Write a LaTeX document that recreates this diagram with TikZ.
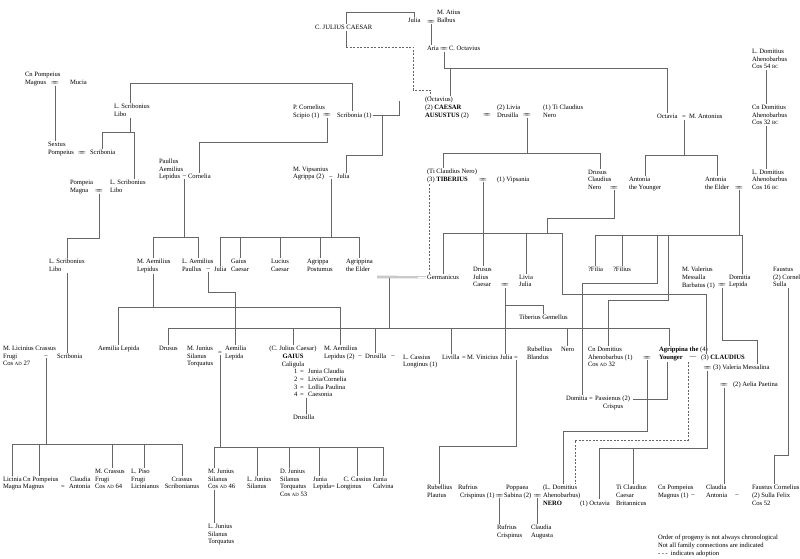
\documentclass[tikz,border=0pt]{standalone}
\usepackage{fontspec}
\setmainfont{Liberation Serif}
\newcommand\fsz{\fontsize{6.6}{7.6}\selectfont}
\newcommand\smc[1]{{\fontsize{4.8}{5}\selectfont #1}}
\newcommand\eql{$=\mkern-9mu=$}
\begin{document}
\begin{tikzpicture}[x=1pt,y=-1pt,
 pn/.style={anchor=north west,inner sep=0pt,outer sep=1.2pt,align=left,font=\fsz,xshift=-1.2pt,yshift=3.9pt},
 pc/.style={anchor=north,inner sep=0pt,outer sep=1.2pt,align=center,font=\fsz,yshift=3.9pt},
 eqn/.style={inner sep=0pt,outer sep=0.8pt,font=\fsz},
 ln/.style={draw=black!60,line width=0.45pt},
 adopt/.style={draw=black!60,line width=0.45pt,dash pattern=on 2pt off 1.5pt},
 dbl/.style={draw=black!60,line width=0.4pt,double,double distance=1.3pt}]
\fill[white] (0,0) rectangle (800,559);
\useasboundingbox (0,0) rectangle (800,559);
% ---------------- nodes: top
\node[pn] (jc) at (315,28) {C. JULIUS CAESAR};
\node[pn] (juliaA) at (408,21) {Julia};
\node[eqn] (eqJB) at (431,22) {\eql};
\node[pn] (atius) at (437,13) {M. Atius\\Balbus};
\node[pn] (aria) at (427,49) {Aria};
\node[eqn] (eqAO) at (444,49.5) {\eql};
\node[pn] (coct) at (449,49) {C. Octavius};
\node[pn] (aug) at (425,100) {(Octavius)\\(2) \textbf{CAESAR}\\\textbf{AUSUSTUS} (2)};
\node[eqn] (eqAL) at (487,115.5) {\eql};
\node[pn] (livia) at (497,107.6) {(2) Livia\\Drusilla};
\node[eqn] (eqLN) at (527,115.5) {\eql};
\node[pn] (tcn) at (543,107.6) {(1) Ti Claudius\\Nero};
\node[pn] (corn) at (293,107.6) {P. Cornelius\\Scipio (1)};
\node[eqn] (eqCS) at (327,115.5) {\eql};
\node[pn] (scrib1) at (337,115.2) {Scribonia (1)};
\node[pn] (libo1) at (114,107) {L. Scribonius\\Libo};
\node[pn] (pompM) at (25,75) {Cn Pompeius\\Magnus};
\node[eqn] (eqPM) at (55,83.5) {\eql};
\node[pn] (mucia) at (70,82.6) {Mucia};
\node[pn] (sextus) at (48,145) {Sextus\\Pompeius};
\node[eqn] (eqSS) at (82,153.5) {\eql};
\node[pn] (scrib2) at (90,152.6) {Scribonia};
\node[pn] (pompeia) at (70,183) {Pompeia\\Magna};
\node[eqn] (eqPL) at (99,191.5) {\eql};
\node[pn] (libo2) at (110,183) {L. Scribonius\\Libo};
\node[pn] (libo3) at (49,262) {L. Scribonius\\Libo};
\node[pn] (crassus) at (3,349) {M. Licinius Crassus\\Frugi\\Cos \smc{AD} 27};
\node[eqn] (dCS) at (46,356.6) {--};
\node[pn] (scrib3) at (57,356.6) {Scribonia};
% bottom left
\node[pn] (licinia) at (3,479.4) {Licinia\\Magna};
\node[pn] (pompM2) at (23,479.4) {Cn Pompeius\\Magnus};
\node[eqn] (eqPC) at (63,487) {=};
\node[pn] (claudA) at (69,479.4) {\hspace*{1pt}Claudia\\Antonia};
\node[pn] (mcrassus) at (95,471.8) {M. Crassus\\Frugi\\Cos \smc{AD} 64};
\node[pn] (piso) at (131,471.8) {L. Piso\\Frugi\\Licinianus};
\node[pc] (crassusS) at (182,479.4) {Crassus\\Scribonianus};
% middle left
\node[pn] (paulAL) at (159,161.6) {Paullus\\Aemilius\\Lepidus};
\node[eqn] (dPC) at (184.5,177) {--};
\node[pn] (cornelia) at (188,176.8) {Cornelia};
\node[pn] (agrippa) at (293,169.4) {M. Vipsanius\\Agrippa (2)};
\node[eqn] (dAJ) at (331,177.2) {--};
\node[pn] (juliaB) at (337,177) {Julia};
\node[pn] (maemil) at (137,262) {M. Aemilius\\Lepidus};
\node[pn] (laemil) at (182,262) {L. Aemilius\\Paullus};
\node[eqn] (dLJ) at (208.5,270) {--};
\node[pn] (juliaC) at (214,269.6) {Julia};
\node[pn] (gaius1) at (231,262) {Gaius\\Caesar};
\node[pn] (lucius) at (271,262) {Lucius\\Caesar};
\node[pn] (agPost) at (307,262) {Agrippa\\Postumus};
\node[pn] (agEld) at (346,262) {Agrippina\\the Elder};
% middle
\node[pn] (tib) at (427,172) {(Ti Claudius Nero)\\(3) \textbf{TIBERIUS}};
\node[eqn] (eqTV) at (483,180) {\eql};
\node[pn] (vips) at (497,179.6) {(1) Vipsania};
\node[pn] (drususCN) at (588,172.4) {Drusus\\Claudius\\Nero};
\node[eqn] (eqDA) at (614,188) {\eql};
\node[pn] (antY) at (629,180) {Antonia\\the Younger};
\node[pn] (antE) at (705,180) {Antonia\\the Elder};
\node[eqn] (eqAE) at (739,188) {\eql};
\node[pn] (ldom3) at (752,172.4) {L. Domitius\\Ahenobarbus\\Cos 16 \smc{BC}};
\node[pn] (ldom1) at (752,52) {L. Domitius\\Ahenobarbus\\Cos 54 \smc{BC}};
\node[pn] (cndom1) at (752,108) {Cn Domitius\\Ahenobarbus\\Cos 32 \smc{BC}};
\node[pn] (octavia1) at (657,117) {Octavia};
\node[eqn] (eqOA) at (684,117.4) {=};
\node[pn] (antonius) at (689,117) {M. Antonius};
\node[pn] (germ) at (427,277.6) {Germanicus};
\node[pn] (drususJ) at (473,270) {Drusus\\Julius\\Caesar};
\node[eqn] (eqDL) at (505,285.6) {\eql};
\node[pn] (liviaJ) at (519,277.6) {Livia\\Julia};
\node[pn] (tibG) at (519,318) {Tiberius Gemellus};
\node[pn] (filia) at (588,270) {?Filia};
\node[pn] (filius) at (613,270) {?Filius};
\node[pn] (valer) at (682,270) {M. Valerius\\Messalla\\Barbatus (1)};
\node[eqn] (eqVD) at (722,285.6) {\eql};
\node[pn] (domLep) at (729,277.6) {Domitia\\Lepida};
\node[pn] (faust1) at (773,270) {Faustus\\(2) Cornelius\\Sulla};
% row 349
\node[pn] (aemLep1) at (98,349) {Aemilia Lepida};
\node[pn] (drusus2) at (159,349) {Drusus};
\node[pn] (silanus1) at (187,349) {M. Junius\\Silanus\\Torquatus};
\node[eqn] (eqSA) at (220,353) {=};
\node[pn] (aemLep2) at (225,349) {Aemilia\\Lepida};
\node[pc] (gaius) at (293,349) {(C. Julius Caesar)\\\textbf{GAIUS}\\Caligula};
\node[pn] (wives) at (294,372) {1\hspace{2.7pt}=\hspace{4.3pt}Junia Claudia\\2\hspace{2.7pt}=\hspace{4.3pt}Livia/Cornelia\\3\hspace{2.7pt}=\hspace{4.3pt}Lollia Paulina\\4\hspace{2.7pt}=\hspace{4.3pt}Caesonia};
\node[pn] (drusilla2) at (293,418) {Drusilla};
\node[pn] (maemil2) at (324,349) {M. Aemilius\\Lepidus (2)};
\node[eqn] (dLD) at (360,357) {--};
\node[pn] (drusilla) at (365,356.6) {Drusilla};
\node[eqn] (dDC) at (393,357) {--};
\node[pn] (lcass) at (403,357.4) {L. Cassius\\Longinus (1)};
\node[pn] (livilla) at (442,357.4) {Livilla};
\node[eqn] (eqLV) at (464,357.8) {=};
\node[pn] (vinic) at (467,357.4) {M. Vinicius};
\node[pn] (juliaD) at (500,357.4) {Julia};
\node[eqn] (eqJR) at (516,357.8) {=};
\node[pn] (rubB) at (527,349.8) {Rubellius\\Blandus};
\node[pn] (neroG) at (561,349.8) {Nero};
\node[pn] (cndom2) at (588,349.8) {Cn Domitius\\Ahenobarbus (1)\\Cos \smc{AD} 32};
\node[eqn] (eqCA) at (647,358) {\eql};
\node[pn] (agrY) at (659,349.8) {\textbf{Agrippina the} (4)\\\textbf{Younger}};
\node[eqn] (dAC) at (693,358) {---};
\node[pn] (claud) at (701,357.4) {(3) \textbf{CLAUDIUS}};
\node[eqn] (eqCM) at (707.5,368.4) {\eql};
\node[pn] (valM) at (713,367.8) {(3) Valeria Messalina};
\node[eqn] (eqCP) at (724,385.4) {\eql};
\node[pn] (aelia) at (733,385) {(2) Aelia Paetina};
\node[pn] (domitia) at (566,399) {Domitia};
\node[eqn] (eqDP) at (591,399.3) {=};
\node[pn] (passi) at (595,399) {Passienus (2)\\\hspace*{8pt}Crispus};
% bottom
\node[pn] (rubP) at (427,488) {Rubellius\\Plautus};
\node[pn] (rufr) at (458,488) {Rufrius\\\hspace*{2pt}Crispinus (1)};
\node[eqn] (eqRP) at (499.5,496) {\eql};
\node[pn] (popp) at (504,488) {\hspace*{2pt}Poppaea\\Sabina (2)};
\node[eqn] (eqPN) at (537.5,496) {\eql};
\node[pn] (nero) at (543,488) {(L. Domitius\\Ahenobarbus)\\\textbf{NERO}};
\node[pn] (octavia2) at (580,503.2) {(1) Octavia};
\node[pn] (brit) at (616,488) {Ti Claudius\\Caesar\\Britannicus};
\node[pn] (pompM3) at (658,488) {Cn Pompeius\\Magnus (1)};
\node[eqn] (dPA) at (693,496) {--};
\node[pn] (claudA2) at (706,488) {Claudia\\Antonia};
\node[eqn] (dAF) at (737,496) {--};
\node[pn] (faust2) at (752,488) {Faustus Cornelius\\(2) Sulla Felix\\Cos 52};
\node[pn] (rufCr) at (497,528) {Rufrius\\Crispinus};
\node[pn] (claudAug) at (531,528) {Claudia\\Augusta};
\node[pn] (silanus2) at (208,471.8) {M. Junius\\Silanus\\Cos \smc{AD} 46};
\node[pn] (lsil) at (247,479.4) {L. Junius\\Silanus};
\node[pn] (dsil) at (280,471.8) {D. Junius\\Silanus\\Torquatus\\Cos \smc{AD} 53};
\node[pn] (juniaL) at (313,479.4) {Junia\\Lepida};
\node[eqn] (eqJC) at (333,487.3) {=};
\node[pn] (ccass) at (336.5,479.4) {\hspace*{7pt}C. Cassius\\Longinus};
\node[pn] (juniaC) at (373,479.4) {Junia\\Calvina};
\node[pn] (lsilT) at (208,527) {L. Junius\\Silanus\\Torquatus};
\node[pn] (legend) at (658,538) {Order of progeny is not always chronological\\Not all family connections are indicated\\- - -\hspace{3pt}indicates adoption};
% ---------------- connectors
\draw[ln] (jc.north -| 346,0) -- (346,12) -| (juliaA.north);
\draw[ln] (jc.south -| 346,0) -- (346,47);
\draw[adopt] (346,47) -- (413,47) -- (413,90) -- (430,90) -- (430,0 |- aug.north);
\draw[ln] (eqJB.south) -- (eqJB.south |- aria.north);
\draw[ln] (eqAO.south) -- (444,68) -| (octavia1.north);
\draw[ln] (450,68) -- (450,0 |- aug.north);
\draw[ln] (scrib1.east) -- (399,0 |- scrib1.east) -- (399,101);
\draw[dbl] (399,100) -- (423,100);
\draw[ln] (382,0 |- scrib1.east) -- (382,155) -- (346,155) -- (346,0 |- juliaB.north);
\draw[ln] (eqLN.south) -- (eqLN.south |- 0,153);
\draw[ln] (443,0 |- tib.north) -- (443,153) -| (drususCN.north);
\draw[ln] (libo1.north -| 130,0) -- (130,83) -- (352,83) -- (352,0 |- scrib1.north);
\draw[ln] (libo1.south -| 130,0) -- (130,132);
\draw[ln] (102,0 |- scrib2.north) |- (134,132) -- (134,0 |- libo2.north);
\draw[ln] (eqPM.south) -- (eqPM.south |- sextus.north);
\draw[ln] (eqPL.south) -- (99,238) -| (libo3.north);
\draw[ln] (libo3.south) -- (libo3.south |- scrib3.north);
\draw[ln] (dCS.south) -- (dCS.south |- 0,444);
\draw[ln] (licinia.north) -- (licinia.north |- 0,444) -| (crassusS.north);
\draw[ln] (39,444) -- (39,0 |- pompM2.north);
\draw[ln] (112,444) -- (112,0 |- mcrassus.north);
\draw[ln] (144,444) -- (144,0 |- piso.north);
\draw[ln] (eqCS.south) -- (327,142) -| (cornelia.north);
\draw[ln] (dPC.south) -- (184.5,237);
\draw[ln] (maemil.north) -- (maemil.north |- 0,237) -| (laemil.north);
\draw[ln] (dAJ.south) -- (331,237);
\draw[ln] (juliaC.north) -- (juliaC.north |- 0,237) -| (agEld.north);
\draw[ln] (gaius1.north) -- (gaius1.north |- 0,237);
\draw[ln] (lucius.north) -- (lucius.north |- 0,237);
\draw[ln] (agPost.north) -- (agPost.north |- 0,237);
\draw[ln] (dLJ.south) -- (208.5,292) -| (aemLep2.north);
\draw[ln] (maemil.south) -- (maemil.south |- 0,307);
\draw[ln] (aemLep1.north) -- (aemLep1.north |- 0,307) -| (maemil2.north);
\draw[dbl] (377,277) -- (germ.west);
\draw[ln] (389,278) -- (389,328);
\draw[ln] (drusus2.north) |- (669,328) -- (669,0 |- agrY.north);
\draw[ln] (gaius.north) -- (gaius.north |- 0,328);
\draw[ln] (drusilla.north) -- (drusilla.north |- 0,328);
\draw[ln] (livilla.north) -- (livilla.north |- 0,328);
\draw[ln] (neroG.north) -- (neroG.north |- 0,328);
\draw[ln] (eqTV.south) -- (eqTV.south |- drususJ.north);
\draw[adopt] (tib.south -| 429,0) -- (429,0 |- germ.north);
\draw[ln] (eqDA.south) -- (614,218) -- (547,218) -- (547,233);
\draw[ln] (germ.north) |- (562,233) -- (562,294) -- (706,294) -- (706,0 |- claud.north);
\draw[ln] (liviaJ.north) -- (liviaJ.north |- 0,233);
\draw[ln] (eqAE.south) -- (739,235);
\draw[ln] (filia.north) |- (742,235) -- (742,0 |- domLep.north);
\draw[ln] (filius.north) -- (filius.north |- 0,235);
\draw[ln] (657,235) -- (657,283) -- (582,283) -- (582,0 |- domitia.north);
\draw[ln] (668,235) -- (668,300) -- (608,300) -- (608,0 |- cndom2.north);
\draw[ln] (eqVD.south) -- (722,340) -- (757,340) -- (757,0 |- valM.north);
\draw[ln] (faust1.south -| 788,0) -- (788,455) -- (774,455) -- (774,0 |- faust2.north);
\draw[ln] (eqDL.south) -- (eqDL.south |- juliaD.north);
\draw[ln] (505,305) -| (tibG.north);
\draw[ln] (eqJR.south) -- (516,446) -| (rubP.north);
\draw[ln] (eqCA.south) -- (647,431) -- (563,431) -- (563,0 |- nero.north);
\draw[ln] (633,399) -- (667,399) -- (667,0 |- agrY.south);
\draw[adopt] (688,0 |- agrY.south) -- (688,440) -- (575,440) -- (575,0 |- nero.north);
\draw[ln] (eqCM.south) -- (707.5,448) -- (599,448) -- (599,0 |- octavia2.north);
\draw[ln] (633,448) -- (633,0 |- brit.north);
\draw[ln] (eqCP.south) -- (eqCP.south |- claudA2.north);
\draw[ln] (eqRP.south) -- (eqRP.south |- rufCr.north);
\draw[ln] (eqPN.south) -- (eqPN.south |- claudAug.north);
\draw[ln] (eqSA.south) -- (eqSA.south |- 0,447);
\draw[ln] (214,0 |- silanus2.north) |- (383,447) -- (383,0 |- juniaC.north);
\draw[ln] (257,447) -- (257,0 |- lsil.north);
\draw[ln] (289,447) -- (289,0 |- dsil.north);
\draw[ln] (319,447) -- (319,0 |- juniaL.north);
\draw[ln] (357,447) -- (357,0 |- ccass.north);
\draw[ln] (214,0 |- silanus2.south) -- (214,0 |- lsilT.north);
\draw[ln] (306,0 |- wives.south) -- (306,0 |- drusilla2.north);
\draw[ln] (eqOA.south) -- (684,155);
\draw[ln] (antY.north) -- (antY.north |- 0,155) -| (antE.north);
\draw[ln] (ldom1.south -| 766,0) -- (766,0 |- cndom1.north);
\draw[ln] (cndom1.south -| 766,0) -- (766,0 |- ldom3.north);
\end{tikzpicture}
\end{document}
